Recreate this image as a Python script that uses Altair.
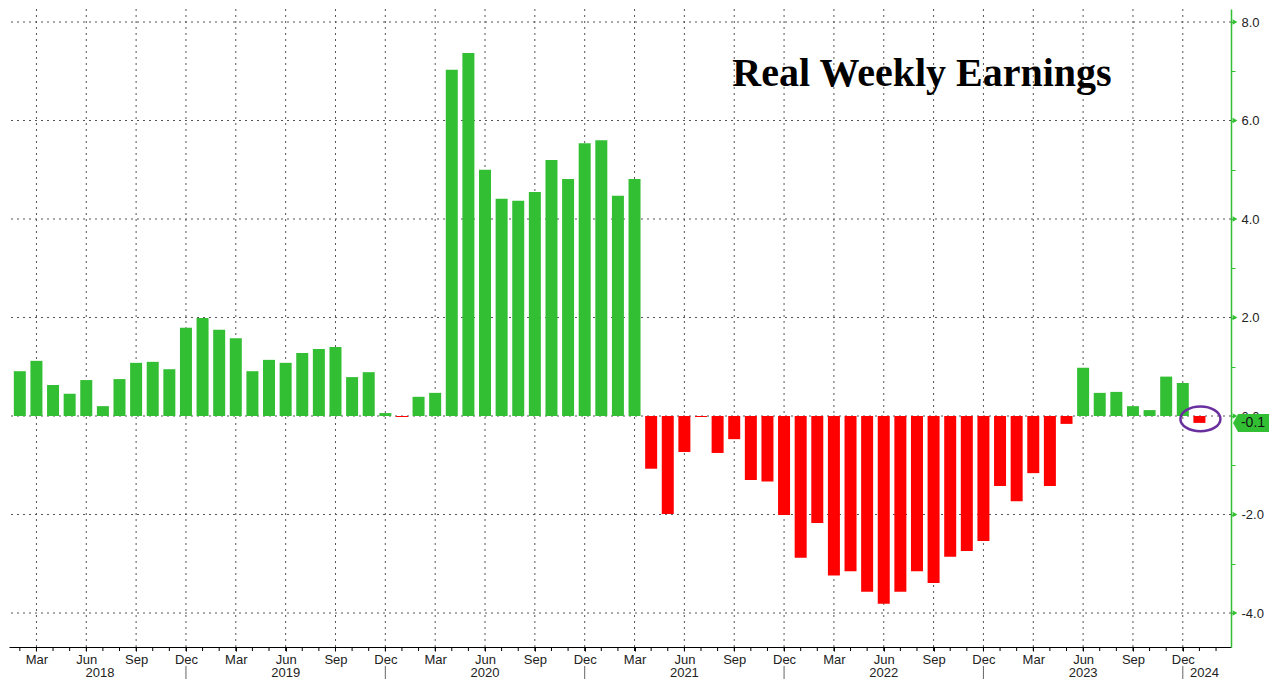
import altair as alt
import pandas as pd

MONTH_ABBR = ["Jan", "Feb", "Mar", "Apr", "May", "Jun",
              "Jul", "Aug", "Sep", "Oct", "Nov", "Dec"]

# Real weekly earnings, y/y % change
yoy_2018 = [0.91, 1.12, 0.63, 0.45, 0.73, 0.20, 0.75, 1.08, 1.10, 0.95, 1.79]  # Feb..Dec
yoy_2019 = [1.99, 1.75, 1.58, 0.91, 1.14, 1.08, 1.28, 1.36, 1.40, 0.79, 0.89, 0.06]
yoy_2020 = [-0.02, 0.39, 0.47, 7.03, 7.37, 5.00, 4.41, 4.37, 4.55, 5.20, 4.81, 5.54]
yoy_2021 = [5.60, 4.47, 4.81, -1.07, -1.99, -0.73, -0.02, -0.75, -0.47, -1.30, -1.33, -2.01]
yoy_2022 = [-2.88, -2.17, -3.24, -3.15, -3.57, -3.81, -3.57, -3.15, -3.39, -2.86, -2.74, -2.54]
yoy_2023 = [-1.42, -1.73, -1.16, -1.42, -0.16, 0.98, 0.47, 0.49, 0.20, 0.12, 0.80, 0.67]
yoy_2024 = [-0.14]  # Jan

series = [(2018, 2, yoy_2018), (2019, 1, yoy_2019), (2020, 1, yoy_2020),
          (2021, 1, yoy_2021), (2022, 1, yoy_2022), (2023, 1, yoy_2023),
          (2024, 1, yoy_2024)]

y_ticks = list(range(-4, 9))
y_major = [-4, -2, 0, 2, 4, 6, 8]
quarter_months = ["Mar", "Jun", "Sep", "Dec"]
title_text = "Real Weekly Earnings"

GREEN = "#33bf33"
RED = "#ff0000"
PURPLE = "#6a2f9e"
GRID = "#555555"
FONT = "Liberation Sans"

rows = []
i = 0
for yr, m0, vals in series:
    for k, v in enumerate(vals):
        m = m0 + k
        rows.append({"i": i, "year": yr, "month": MONTH_ABBR[m - 1], "v": v})
        i += 1
df = pd.DataFrame(rows)

# tick months: every month up to Feb 2024
n_ticks = len(df) + 1
tick_months = [MONTH_ABBR[(t + 1) % 12] for t in range(n_ticks)]
quarter_idx = [t for t in range(n_ticks) if tick_months[t] in quarter_months]
label_map = "{" + ",".join(f"'{t}':'{tick_months[t]}'" for t in quarter_idx) + "}"
label_expr = label_map + "[datum.value + '']"

X_MIN, X_MAX = -0.35, 72.6
Y_MIN, Y_MAX = -4.69, 8.264
W, H = 1222, 638

xs = alt.Scale(domain=[X_MIN, X_MAX], nice=False, zero=False)
ys = alt.Scale(domain=[Y_MIN, Y_MAX], nice=False, zero=False)

vgrid_df = pd.DataFrame({"i": quarter_idx})
hgrid_df = pd.DataFrame({"g": y_major})
minor_df = pd.DataFrame({"i": list(range(n_ticks))})

dec_idx = [t for t in range(n_ticks) if tick_months[t] == "Dec"]
years = sorted(df["year"].unique())
yl = []
for yr in years:
    start = max(X_MIN, (yr - 2018) * 12 - 2)
    end = min(X_MAX, (yr - 2018) * 12 + 10)
    yl.append({"c": (start + end) / 2, "label": str(yr)})
year_df = pd.DataFrame(yl)
sep_df = pd.DataFrame({"i": dec_idx})

last = df.iloc[[-1]].copy()
last["label"] = last["v"].map(lambda v: f"{v:.1f}")

vgrid = alt.Chart(vgrid_df).mark_rule(color=GRID, strokeWidth=1, strokeDash=[2, 4]).encode(
    x=alt.X("i:Q", scale=xs)
)
hgrid = alt.Chart(hgrid_df).mark_rule(color=GRID, strokeWidth=1, strokeDash=[2, 4]).encode(
    y=alt.Y("g:Q", scale=ys)
)
minor = alt.Chart(minor_df).mark_rule(color="#000000", strokeWidth=1).encode(
    x=alt.X("i:Q", scale=xs), y=alt.value(H), y2=alt.value(H + 4)
)

bars = alt.Chart(df).mark_bar(size=12).encode(
    x=alt.X("i:Q", scale=xs, axis=alt.Axis(
        values=quarter_idx, labelExpr=label_expr, grid=False,
        tickSize=4, tickColor="#000000", domainColor="#000000", domainWidth=1,
        labelFont=FONT, labelFontSize=13, labelColor="#222222", labelPadding=2,
        labelOverlap=False, labelFlush=False, title="")),
    y=alt.Y("v:Q", scale=ys, axis=alt.Axis(
        orient="right", values=y_ticks,
        labelExpr="datum.value % 2 == 0 ? replace(format(datum.value, '.1f'), '\u2212', '-') : ''",
        grid=False, tickSize=4, tickColor=GREEN, domainColor=GREEN, domainWidth=1.5,
        labelFont=FONT, labelFontSize=13, labelColor="#222222", labelPadding=6,
        labelOverlap=False, labelFlush=False, title="")),
    color=alt.when(alt.datum.v >= 0).then(alt.value(GREEN)).otherwise(alt.value(RED)),
)

years_text = alt.Chart(year_df).mark_text(
    font=FONT, fontSize=13, color="#222222", baseline="alphabetic", align="center"
).encode(x=alt.X("c:Q", scale=xs), y=alt.value(H + 30), text="label:N")

seps = alt.Chart(sep_df).mark_rule(color="#666666", strokeWidth=1).encode(
    x=alt.X("i:Q", scale=xs), y=alt.value(H + 19), y2=alt.value(H + 32)
)

tri = alt.Chart(hgrid_df).mark_point(
    shape="triangle-right", filled=True, size=30, color=GREEN, opacity=1
).encode(x=alt.value(W + 4), y=alt.Y("g:Q", scale=ys))

TAG = "M -1 0 L -0.72 -0.5 L 1 -0.5 L 1 0.5 L -0.72 0.5 Z"
tag = alt.Chart(last).mark_point(
    shape=TAG, size=1296, filled=True, color=GREEN, opacity=1, strokeWidth=0
).encode(x=alt.value(W + 20), y=alt.Y("v:Q", scale=ys))
tag_text = alt.Chart(last).mark_text(
    font=FONT, fontSize=14, color="#111111", align="center", baseline="middle"
).encode(x=alt.value(W + 22), y=alt.Y("v:Q", scale=ys), text="label:N")

ELLIPSE = "M -1 0 A 1 0.62 0 1 0 1 0 A 1 0.62 0 1 0 -1 0 Z"
ring = alt.Chart(last).mark_point(
    shape=ELLIPSE, size=1600, filled=False, stroke=PURPLE, strokeWidth=2.5,
    opacity=1, yOffset=-4, xOffset=1
).encode(x=alt.X("i:Q", scale=xs), y=alt.Y("v:Q", scale=ys))

title_df = pd.DataFrame({"t": [title_text]})
title = alt.Chart(title_df).mark_text(
    font="Liberation Serif", fontSize=40, fontWeight="bold", color="#000000",
    align="center", baseline="alphabetic"
).encode(x=alt.value(913), y=alt.value(77), text="t:N")

chart = alt.layer(
    vgrid, hgrid, minor, bars, years_text, seps, tri, tag, tag_text, ring, title
).properties(
    width=W, height=H, padding=0, background="#ffffff"
).configure_view(stroke=None)

chart.save("out.html", embed_options={"renderer": "svg", "actions": False})
